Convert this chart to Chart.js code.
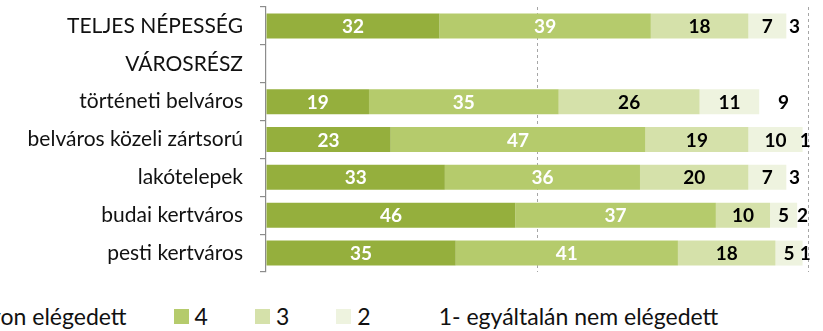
<!DOCTYPE html>
<html>
<head>
<meta charset="utf-8">
<script src="https://cdn.jsdelivr.net/npm/chart.js@4"></script>
<style>
  html, body { margin: 0; padding: 0; background: #fff; overflow: hidden; }
  #wrap { position: relative; width: 823px; height: 331px; }
  #chart { position: absolute; left: 0; top: 0; }
  #legend {
    position: absolute; top: 301px; left: 0;
    display: flex; align-items: center; white-space: nowrap;
    font-family: Lato, sans-serif; font-size: 23px; line-height: 30px; color: #111;
  }
  #legend .item { display: flex; align-items: center; margin-right: 47px; }
  #legend .sw { width: 15px; height: 15px; margin-right: 6px; }
</style>
</head>
<body>
<div id="wrap">
  <canvas id="chart" width="823" height="290"></canvas>
  <div id="legend"></div>
</div>
<script>
// categories (rows, top to bottom)
const categories = [
  'TELJES NÉPESSÉG',
  'VÁROSRÉSZ',
  'történeti belváros',
  'belváros közeli zártsorú',
  'lakótelepek',
  'budai kertváros',
  'pesti kertváros'
];

// satisfaction levels
const seriesNames = ['5- nagyon elégedett', '4', '3', '2', '1- egyáltalán nem elégedett'];

// percentages per level
const level5 = [32, null, 19, 23, 33, 46, 35];
const level4 = [39, null, 35, 47, 36, 37, 41];
const level3 = [18, null, 26, 19, 20, 10, 18];
const level2 = [7, null, 11, 10, 7, 5, 5];
const level1 = [3, null, 9, 1, 3, 2, 1];

const seriesColors = ['#95AF3D', '#B5CB6C', '#D5E1AA', '#EEF3DF', '#FFFFFF'];
const labelColors = ['#fff', '#fff', '#000', '#000', '#000'];

const allSeries = [level5, level4, level3, level2, level1];

// draws the value in the middle of each segment
const segmentLabels = {
  id: 'segmentLabels',
  afterDatasetsDraw(chart) {
    const ctx = chart.ctx;
    ctx.save();
    ctx.font = 'bold 19px Lato, sans-serif';
    ctx.textAlign = 'center';
    ctx.textBaseline = 'middle';
    chart.data.datasets.forEach((ds, i) => {
      const meta = chart.getDatasetMeta(i);
      meta.data.forEach((bar, j) => {
        const v = ds.data[j];
        if (v == null) return;
        const { x, base, y } = bar.getProps(['x', 'base', 'y'], true);
        ctx.fillStyle = labelColors[i];
        ctx.fillText(String(v), (x + base) / 2, y + 1);
      });
    });
    ctx.restore();
  }
};

new Chart(document.getElementById('chart'), {
  type: 'bar',
  data: {
    labels: categories,
    datasets: allSeries.map((d, i) => ({
      label: seriesNames[i],
      data: d,
      backgroundColor: seriesColors[i],
      borderWidth: 0,
      categoryPercentage: 0.66,
      barPercentage: 1
    }))
  },
  options: {
    indexAxis: 'y',
    responsive: false,
    animation: false,
    layout: { padding: { top: 7, right: 15, bottom: 0, left: 0 } },
    plugins: {
      legend: { display: false },
      tooltip: { enabled: false }
    },
    scales: {
      x: {
        stacked: true,
        min: 0,
        max: 100,
        ticks: { display: false, stepSize: 50 },
        border: { display: false, dash: [3, 3] },
        grid: {
          drawTicks: false,
          color: (c) => (c.tick && c.tick.value === 0 ? 'rgba(0,0,0,0)' : '#A6A6A6'),
          lineWidth: 1
        },
        afterFit: (s) => { s.height = 18; }
      },
      y: {
        stacked: true,
        border: { display: true, color: '#8C8C8C', width: 1.2 },
        grid: {
          drawOnChartArea: false,
          drawTicks: true,
          tickLength: 6,
          color: '#8C8C8C',
          lineWidth: 1.2
        },
        ticks: {
          color: '#111',
          padding: 17,
          font: { family: 'Lato, sans-serif', size: 21 }
        },
        afterFit: (s) => {
          s.width = 266;
          s.paddingTop = 0;
          s.paddingBottom = 0;
        }
      }
    }
  },
  plugins: [segmentLabels]
});

// html legend, first entry runs off the left edge like the original
const legend = document.getElementById('legend');
const items = seriesNames.map((name, i) => {
  const item = document.createElement('div');
  item.className = 'item';
  const sw = document.createElement('span');
  sw.className = 'sw';
  sw.style.background = seriesColors[i];
  const txt = document.createElement('span');
  txt.textContent = name;
  item.appendChild(sw);
  item.appendChild(txt);
  legend.appendChild(item);
  return item;
});
const placeLegend = () => {
  legend.style.left = (174 - items[1].offsetLeft) + 'px';
};
placeLegend();
if (document.fonts) document.fonts.ready.then(placeLegend);
</script>
</body>
</html>
